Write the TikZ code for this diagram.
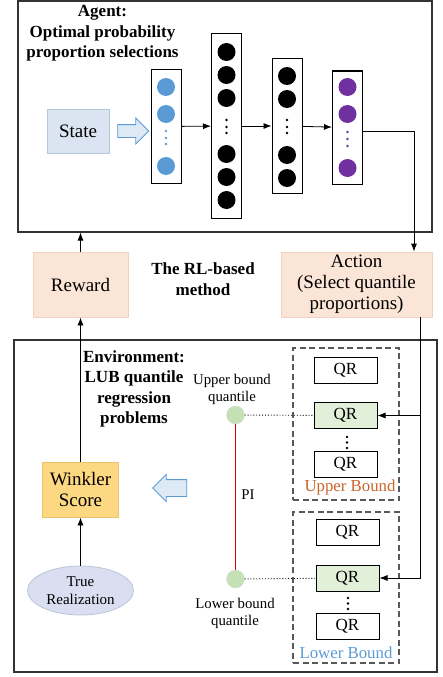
\documentclass[tikz,border=0pt]{standalone}
\usepackage{fontspec}
\setmainfont{Liberation Serif}
\usetikzlibrary{positioning,shapes.geometric,shapes.arrows,arrows.meta}
\definecolor{stateF}{HTML}{DAE5F1}
\definecolor{stateD}{HTML}{B4C7DC}
\definecolor{nblue}{HTML}{5B9BD5}
\definecolor{npurple}{HTML}{7030A0}
\definecolor{peach}{HTML}{FBE5D6}
\definecolor{peachD}{HTML}{F0D2BE}
\definecolor{gold}{HTML}{FDD882}
\definecolor{goldD}{HTML}{E9C36C}
\definecolor{lav}{HTML}{D9DEF0}
\definecolor{lavD}{HTML}{BCC4D8}
\definecolor{qgreen}{HTML}{C5E0B4}
\definecolor{qgreenL}{HTML}{E2EFD9}
\definecolor{ubound}{HTML}{C8642A}
\definecolor{hollow}{HTML}{DDE9F5}

\begin{document}
\begin{tikzpicture}[x=1pt,y=-1pt,
    frame/.style={draw=black!80,line width=1.1pt},
    layer/.style={draw,line width=1pt,fill=white,inner sep=0pt,minimum width=30},
    neuron/.style={circle,inner sep=0pt,minimum size=18},
    softbox/.style={draw,line width=0.8pt,align=center,font=\fontsize{19}{21}\selectfont},
    qr/.style={draw,line width=1pt,minimum width=63,minimum height=26,inner sep=0pt,font=\fontsize{17}{19}\selectfont},
    title/.style={align=center,font=\fontsize{17}{20.5}\selectfont\bfseries},
    small/.style={align=center,font=\fontsize{14.8}{17}\selectfont},
    bound/.style={draw=black!65,dash pattern=on 6pt off 3.5pt,line width=1.1pt,minimum width=106,inner sep=0pt},
    quant/.style={circle,fill=qgreen,draw=qgreen!80!black!40,inner sep=0pt,minimum size=18},
    hollow arrow/.style={single arrow,draw=nblue,fill=hollow,line width=0.8pt,
      inner xsep=0pt},
    arr/.style={-{Latex[length=8pt,width=6pt]},line width=0.8pt},
    piline/.style={draw=red!85!black,line width=1.3pt},
  ]
    \useasboundingbox (0,0) rectangle (443,677);

    \node [frame,minimum width=414,minimum height=231] (agent) at (225,116.5) {};
    \node [title] (agentT) at (102.5,33.5) {Agent:\\Optimal probability\\proportion selections};

    \node [softbox,draw=stateD,fill=stateF,minimum width=62,minimum height=44] (state) at (78,131) {State};
    \node [hollow arrow,inner ysep=6pt,single arrow head extend=6.5pt,minimum height=31] (sarrow) at (130,131) {};

    \node [layer,minimum height=113] (L1) at (166,126.5) {};
    \node [layer,minimum height=184] (L2) at (226.5,126) {};
    \node [layer,minimum height=134] (L3) at (287,126) {};
    \node [layer,minimum height=113] (L4) at (347.5,127.5) {};

    \foreach \y in {87,114,166}
      \node [neuron,fill=nblue] (a\y) at (166,\y) {};
    \foreach \y in {52,75,98,154,177,200}
      \node [neuron,fill=black] (b\y) at (226.5,\y) {};
    \foreach \y in {76,99,155,178}
      \node [neuron,fill=black] (c\y) at (287,\y) {};
    \foreach \y in {87,114,168}
      \node [neuron,fill=npurple] (d\y) at (347.5,\y) {};
    \foreach \y in {131,138,144} \fill [nblue] (166,\y) circle (1.3);
    \foreach \y in {120,127,133} \fill (226.5,\y) circle (1.4) (287,\y) circle (1.4);
    \foreach \y in {132,139,146} \fill [npurple] (347.5,\y) circle (1.3);

    \draw [arr] (L1) -- (L2);
    \draw [arr] (L2) -- (L3);
    \draw [arr] (L3) -- (L4);

    \node [softbox,draw=peachD,fill=peach,minimum width=95,minimum height=65] (rew) at (80.5,284.5) {Reward};
    \node [softbox,draw=peachD,fill=peach,minimum width=151,minimum height=65,inner sep=0pt] (act) at (356.5,284.5)
      {Action\\(Select quantile\\proportions)};
    \node [title] (rlT) at (203,279) {The RL-based\\method};

    \draw [arr] ([yshift=-4pt]L4.east) -| ([xshift=57.5pt]act.north);
    \draw [arr] (rew) -- (rew |- agent.south);

    \node [frame,minimum width=423,minimum height=332] (env) at (225.5,506) {};
    \node [title] (envT) at (134,389) {Environment:\\LUB quantile\\regression\\problems};

    \node [bound,minimum height=152] (ubox) at (346,424) {};
    \node [bound,minimum height=151] (lbox) at (346,587.5) {};

    \node [qr] (uq1) at (345.5,370) {QR};
    \node [qr,fill=qgreenL] (uq2) at (345.5,415.5) {QR};
    \node [qr] (uq3) at (345.5,464) {QR};
    \node [qr] (lq1) at (347.5,532.5) {QR};
    \node [qr,fill=qgreenL] (lq2) at (347.5,578) {QR};
    \node [qr] (lq3) at (347.5,626) {QR};
    \foreach \y in {437,442.5,448} \fill (347,\y) circle (1.3);
    \foreach \y in {598,603.5,609} \fill (348,\y) circle (1.3);
    \node [font=\fontsize{16.8}{19}\selectfont,text=ubound] (ubT) at (350,487) {Upper Bound};
    \node [font=\fontsize{16.8}{19}\selectfont,text=nblue] (lbT) at (346,653) {Lower Bound};

    \coordinate (split) at ([xshift=63.5pt]act.south |- uq2);
    \draw [arr] ([xshift=63.5pt]act.south) |- (lq2);
    \draw [arr] (split) -- (uq2);

    \node [quant] (ub) at (235.5,415) {};
    \node [quant] (lb) at (235.5,579) {};
    \node [small] (ubL) at (232,389.5) {Upper bound\\quantile};
    \node [small] (lbL) at (235,613) {Lower bound\\quantile};
    \path [piline] (ub.south) -- (lb.north);
    \node [small] (pi) at (248,495) {PI};
    \draw [dotted,line width=0.9pt] (ub) -- (uq2);
    \draw [dotted,line width=0.9pt] (lb) -- (lq2);

    \node [hollow arrow,shape border rotate=180,inner ysep=8pt,single arrow head extend=5pt,minimum height=34] (earrow) at (174,488) {};

    \node [softbox,draw=goldD,fill=gold,minimum width=76,minimum height=55] (wink) at (80.5,489.5) {Winkler\\Score};
    \node [ellipse,draw=lavD,fill=lav,line width=0.8pt,minimum width=93,minimum height=49,
      align=center,font=\fontsize{15}{18}\selectfont] (truth) at (80.5,590.5) {True\\Realization};

    \draw [arr] (truth) -- (wink);
    \draw [arr] (wink) -- (rew);
\end{tikzpicture}
\end{document}
